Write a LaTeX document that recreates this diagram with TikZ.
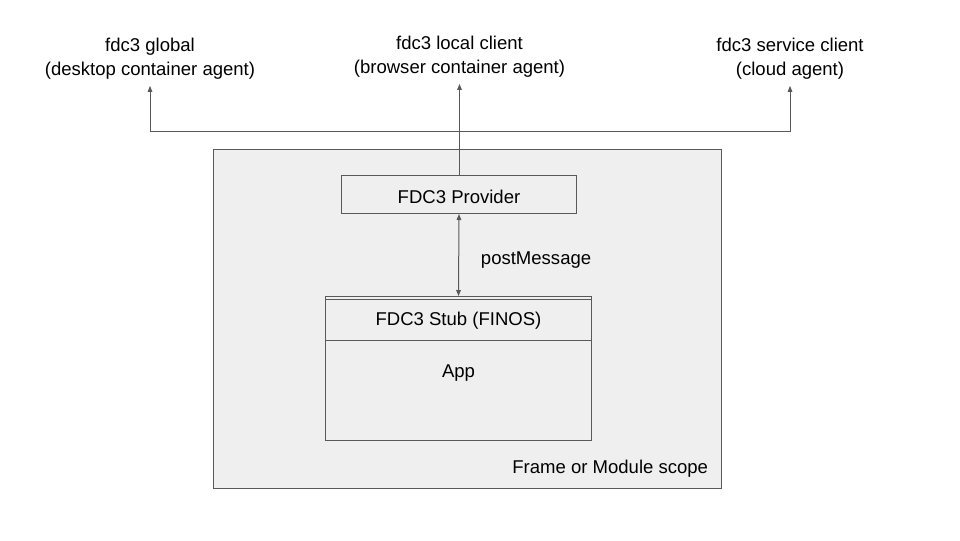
\documentclass[tikz,border=0pt]{standalone}
\usepackage{fontspec}
\setmainfont{Liberation Sans}
\usetikzlibrary{arrows.meta, positioning}
\definecolor{linegray}{HTML}{595959}
\definecolor{boxgray}{HTML}{EFEFEF}

\begin{document}
\begin{tikzpicture}[x=0.75pt, y=-0.75pt, line width=0.75pt,
  every node/.style={align=center, font=\fontsize{13.9}{17.7}\selectfont},
  box/.style={draw=linegray, rectangle, inner sep=0pt},
  agent/.style={inner sep=4.5pt},
  >={Triangle[length=4.5pt, width=3.5pt]}]
\useasboundingbox (0,0) rectangle (960,540);
% outer frame
\node (Scope) [box, fill=boxgray, minimum width=381pt, minimum height=254.25pt] at (467.5,319) {};
\node (ScopeLabel) [anchor=east] at (713,469) {Frame or Module scope};
% inner boxes
\node (Provider) [box, text height=13pt, minimum width=176.25pt, minimum height=28.5pt] at (459,194.5) {FDC3 Provider};
\node (App) [box, minimum width=199.5pt, minimum height=105.75pt] at (458.5,370) {};
\node (Stub) [box, text height=14pt, minimum width=199.5pt, minimum height=33pt] at (458.5,318.5) {FDC3 Stub (FINOS)};
\node (AppLabel) [below=14pt of Stub] {App};
% agents on top
\node (Global) [agent] at (150,59) {fdc3 global\\(desktop container agent)};
\node (Local) [agent] at (459.5,57) {fdc3 local client\\(browser container agent)};
\node (Service) [agent] at (790,59) {fdc3 service client\\(cloud agent)};
\coordinate (Bus) at (459.5,131.5);
\draw[->, linegray] (Provider.north -| Bus) -- (Local.south);
\draw[<->, linegray] (Global.south) |- (Bus) -| (Service.south);
\draw[<->, linegray] (Provider.south) -- (Stub.north);
\node (Post) [anchor=west] at (476,260) {postMessage};
\end{tikzpicture}
\end{document}
